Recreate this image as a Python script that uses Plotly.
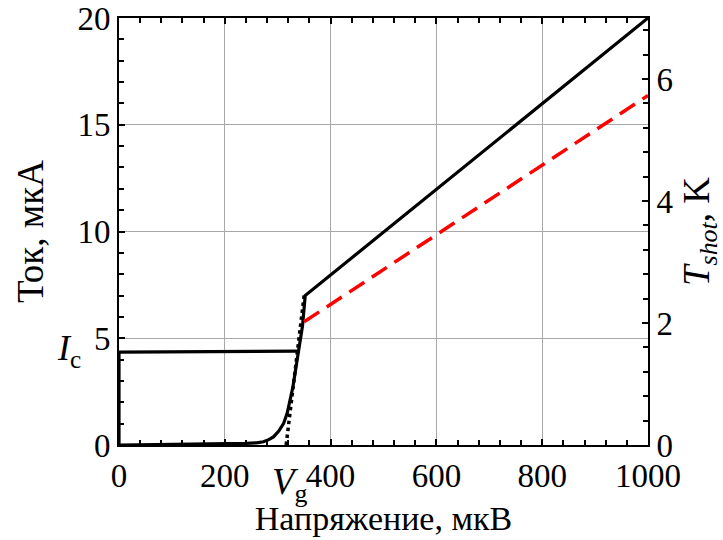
import plotly.graph_objects as go

# Data
iv_v = [0, 100, 200, 240, 260, 273, 283, 292, 302, 311, 318, 324, 329, 333, 339, 347, 352, 1000]
iv_i = [0, 0.02, 0.05, 0.08, 0.1, 0.15, 0.25, 0.38, 0.65, 1.0, 1.5, 2.1, 2.75, 3.4, 4.4, 5.6, 7.0, 20.0]

sc_v = [0, 0, 339]
sc_i = [0, 4.35, 4.4]

ideal_v = [316, 350]
ideal_i = [0, 7.0]

tshot_v = [350, 1000]
tshot_t = [2.02, 5.73]

FONT = "Liberation Serif"

fig = go.Figure()
fig.add_trace(go.Scatter(x=ideal_v, y=ideal_i, mode="lines",
                         line=dict(color="black", width=3.5, dash="dot"), showlegend=False))
fig.add_trace(go.Scatter(x=sc_v, y=sc_i, mode="lines",
                         line=dict(color="black", width=3.2), showlegend=False))
fig.add_trace(go.Scatter(x=iv_v, y=iv_i, mode="lines",
                         line=dict(color="black", width=3.2), showlegend=False))
fig.add_trace(go.Scatter(x=tshot_v, y=tshot_t, mode="lines", yaxis="y2",
                         line=dict(color="#ff0000", width=3.5, dash="18px,9px"), showlegend=False))

axis_common = dict(
    ticks="inside", ticklen=6, tickwidth=1.5, tickcolor="black",
    showline=True, linecolor="black", linewidth=2,
    tickfont=dict(family=FONT, size=33, color="black"),
    zeroline=False, automargin=False,
)

fig.update_layout(
    width=723, height=540,
    margin=dict(l=119, r=75, t=18, b=95),
    paper_bgcolor="white", plot_bgcolor="white",
    font=dict(family=FONT, color="black"),
    xaxis=dict(range=[0, 1000], dtick=200, tick0=0,
               minor=dict(dtick=40, ticks="inside", ticklen=5, tickcolor="black", showgrid=False),
               showgrid=True, gridcolor="#a8a8a8", gridwidth=1,
               mirror="ticks",
               title=dict(text="Напряжение, мкВ", font=dict(family=FONT, size=34), standoff=14),
               **axis_common),
    yaxis=dict(range=[0, 20], dtick=5, tick0=0,
               minor=dict(dtick=1, ticks="inside", ticklen=5, tickcolor="black", showgrid=False),
               showgrid=True, gridcolor="#a8a8a8", gridwidth=1,
               title=dict(text="Ток, мкА", font=dict(family=FONT, size=37), standoff=22),
               **axis_common),
    yaxis2=dict(range=[0, 7], dtick=2, tick0=0, overlaying="y", side="right",
                minor=dict(dtick=0.4, ticks="inside", ticklen=5, tickcolor="black", showgrid=False),
                showgrid=False,
                title=dict(text="<i>T</i><sub><i>shot</i></sub>, K", font=dict(family=FONT, size=37), standoff=22),
                **axis_common),
    annotations=[
        dict(text="<i>I</i><sub>c</sub>", xref="paper", yref="paper", x=-0.095, y=0.222,
             xanchor="center", yanchor="middle",
             showarrow=False, font=dict(family=FONT, size=36, color="black")),
        dict(text="<i>V</i><sub>g</sub>", xref="paper", yref="paper", x=0.323, y=-0.092,
             xanchor="center", yanchor="middle",
             showarrow=False, font=dict(family=FONT, size=37, color="black")),
    ],
)

fig.write_html("out.html")
